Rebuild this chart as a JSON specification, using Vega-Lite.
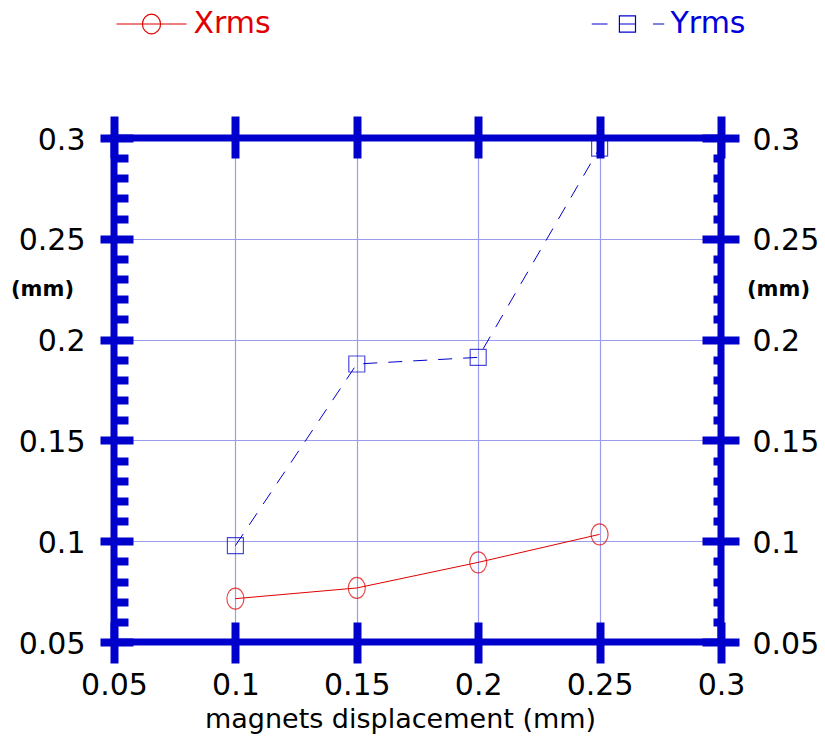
{
  "$schema": "https://vega.github.io/schema/vega-lite/v6.json",
  "width": 607,
  "height": 504,
  "autosize": {"type": "none"},
  "padding": {"left": 114, "top": 138, "right": 104, "bottom": 103},
  "background": "white",
  "config": {
    "font": "DejaVu Sans",
    "view": {"stroke": "#0000cc", "strokeWidth": 7},
    "axis": {
      "domain": false,
      "labelFlush": false,
      "labelOverlap": false,
      "tickColor": "#0000cc",
      "tickWidth": 8,
      "tickCap": "butt",
      "labelFont": "DejaVu Sans",
      "labelFontSize": 30,
      "labelColor": "black",
      "gridColor": "#9c9cef",
      "gridWidth": 1.2,
      "titleFont": "DejaVu Sans",
      "titleColor": "black",
      "titleFontWeight": "normal"
    }
  },
  "data": {
    "values": [
      {"x": 0.1, "y": 0.0715, "series": "Xrms"},
      {"x": 0.15, "y": 0.0768, "series": "Xrms"},
      {"x": 0.2, "y": 0.0895, "series": "Xrms"},
      {"x": 0.25, "y": 0.1034, "series": "Xrms"},
      {"x": 0.1, "y": 0.0978, "series": "Yrms"},
      {"x": 0.15, "y": 0.1879, "series": "Yrms"},
      {"x": 0.2, "y": 0.1912, "series": "Yrms"},
      {"x": 0.25, "y": 0.295, "series": "Yrms"}
    ]
  },
  "resolve": {"axis": {"x": "independent", "y": "independent"}},
  "layer": [
    {
      "transform": [{"filter": "datum.series === 'Xrms'"}],
      "mark": {"type": "line", "strokeWidth": 1},
      "encoding": {
        "x": {
          "field": "x", "type": "quantitative",
          "scale": {"domain": [0.05, 0.3], "nice": false, "zero": false},
          "axis": {
            "orient": "bottom", "offset": -20, "tickSize": 41,
            "values": [0.05, 0.1, 0.15, 0.2, 0.25, 0.3], "format": "~g",
            "labelPadding": 7, "grid": true,
            "gridOpacity": {"condition": {"test": "datum.value < 0.06 || datum.value > 0.29", "value": 0}, "value": 1},
            "title": "magnets displacement (mm)", "titleFontSize": 27,
            "titleX": 286, "titleY": 105, "titleAlign": "center", "titleBaseline": "alphabetic"
          }
        },
        "y": {
          "field": "y", "type": "quantitative",
          "scale": {"domain": [0.05, 0.3], "nice": false, "zero": false},
          "axis": {
            "orient": "left", "offset": -19, "tickSize": 33,
            "values": [0.05, 0.1, 0.15, 0.2, 0.25, 0.3], "format": "~g",
            "labelPadding": 15, "labelOffset": 2, "grid": true,
            "gridOpacity": {"condition": {"test": "datum.value < 0.06 || datum.value > 0.29", "value": 0}, "value": 1},
            "title": "(mm)", "titleAngle": 0, "titleFontSize": 21, "titleFontWeight": "bold",
            "titleX": -91, "titleY": 157, "titleAlign": "center", "titleBaseline": "alphabetic"
          }
        },
        "color": {
          "field": "series", "type": "nominal",
          "scale": {"domain": ["Xrms", "Yrms"], "range": ["#e00000", "#0000cc"]},
          "legend": {
            "orient": "none", "legendX": 1.5, "legendY": -150,
            "direction": "horizontal", "columns": 2, "title": null,
            "padding": 0, "columnPadding": 317,
            "symbolSize": 4900, "symbolStrokeWidth": 1,
            "symbolType": "M-1,0L1,0",
            "labelFont": "DejaVu Sans", "labelFontSize": 30, "labelOffset": 6,
            "encode": {
              "symbols": {
                "update": {
                  "shape": {"signal": "datum.value === 'Xrms' ? 'M-1,0L1,0M0.26,0A0.26,0.28 0 1,1 -0.26,0A0.26,0.28 0 1,1 0.26,0' : 'M-1.05,0L-0.6,0M-0.26,-0.23L0.2,-0.23L0.2,0.23L-0.26,0.23ZM-0.26,0L0.2,0M0.7,0L1.02,0'"},
                  "stroke": {"signal": "datum.value === 'Xrms' ? '#ee3030' : '#5555ee'"},
                  "fill": {"value": "transparent"},
                  "strokeDash": {"value": []},
                  "strokeWidth": {"value": 1.2}
                }
              },
              "labels": {
                "update": {
                  "fill": {"signal": "datum.value === 'Xrms' ? '#e00000' : '#0000dd'"}
                }
              }
            }
          }
        }
      }
    },
    {
      "transform": [{"filter": "datum.series === 'Yrms'"}],
      "mark": {"type": "line", "strokeWidth": 1, "strokeDash": [14, 11]},
      "encoding": {
        "x": {
          "field": "x", "type": "quantitative",
          "scale": {"domain": [0.05, 0.3], "nice": false, "zero": false},
          "axis": {
            "orient": "top", "offset": -20, "tickSize": 42,
            "values": [0.05, 0.1, 0.15, 0.2, 0.25, 0.3],
            "labels": false, "grid": false, "title": null
          }
        },
        "y": {
          "field": "y", "type": "quantitative",
          "scale": {"domain": [0.05, 0.3], "nice": false, "zero": false},
          "axis": {
            "orient": "right", "offset": -19, "tickSize": 37,
            "values": [0.05, 0.1, 0.15, 0.2, 0.25, 0.3], "format": "~g",
            "labelPadding": 13, "labelOffset": 2, "grid": false,
            "title": "(mm)", "titleAngle": 0, "titleFontSize": 21, "titleFontWeight": "bold",
            "titleX": 76, "titleY": 157, "titleAlign": "center", "titleBaseline": "alphabetic"
          }
        },
        "color": {"field": "series", "type": "nominal", "legend": null}
      }
    },
    {
      "transform": [{"filter": "datum.series === 'Xrms'"}],
      "mark": {"type": "point", "filled": false, "color": "#e00000", "strokeWidth": 1.2, "size": 441,
               "shape": "M0.81,0A0.81,1 0 1,1 -0.81,0A0.81,1 0 1,1 0.81,0Z"},
      "encoding": {
        "x": {"field": "x", "type": "quantitative", "scale": {"domain": [0.05, 0.3], "nice": false, "zero": false}, "axis": null},
        "y": {
          "field": "y", "type": "quantitative",
          "scale": {"domain": [0.05, 0.3], "nice": false, "zero": false},
          "axis": {
            "orient": "left", "offset": -14, "tickSize": 14,
            "values": [0.06, 0.07, 0.08, 0.09, 0.11, 0.12, 0.13, 0.14, 0.16, 0.17, 0.18, 0.19, 0.21, 0.22, 0.23, 0.24, 0.26, 0.27, 0.28, 0.29],
            "labels": false, "grid": false, "title": null
          }
        }
      }
    },
    {
      "transform": [{"filter": "datum.series === 'Yrms'"}],
      "mark": {"type": "point", "filled": false, "color": "#0000cc", "strokeWidth": 1.2, "size": 256, "shape": "square"},
      "encoding": {
        "x": {"field": "x", "type": "quantitative", "scale": {"domain": [0.05, 0.3], "nice": false, "zero": false}, "axis": null},
        "y": {
          "field": "y", "type": "quantitative",
          "scale": {"domain": [0.05, 0.3], "nice": false, "zero": false},
          "axis": {
            "orient": "right", "offset": -8, "tickSize": 8,
            "values": [0.06, 0.07, 0.08, 0.09, 0.11, 0.12, 0.13, 0.14, 0.16, 0.17, 0.18, 0.19, 0.21, 0.22, 0.23, 0.24, 0.26, 0.27, 0.28, 0.29],
            "labels": false, "grid": false, "title": null
          }
        }
      }
    }
  ]
}
